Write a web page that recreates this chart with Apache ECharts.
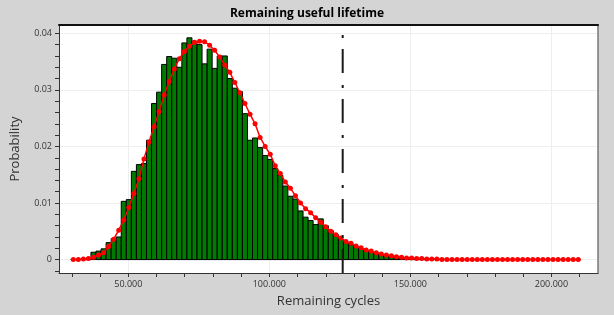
<!DOCTYPE html>
<html><head><meta charset="utf-8">
<script src="https://cdn.jsdelivr.net/npm/echarts@6/dist/echarts.min.js"></script>
<style>html,body{margin:0;padding:0;background:#d4d4d4}#c{width:614px;height:315px}</style>
</head><body><div id="c"></div>
<script>
// ---- data ----
const chartTitle = 'Remaining useful lifetime';
const xAxisTitle = 'Remaining cycles';
const yAxisTitle = 'Probability';
const binFirstCenter = 30500;   // centre of first histogram bin (cycles)
const binWidth = 1790;          // width of one bin (cycles)
const histHeights = [
  0, 0, 0, 0, 0.0013, 0.0015, 0.0019, 0.0030, 0.0037, 0.0040,
  0.0103, 0.0106, 0.0156, 0.0168, 0.0170, 0.0211, 0.0276, 0.0296, 0.0345, 0.0359,
  0.0356, 0.0340, 0.0383, 0.0392, 0.0386, 0.0380, 0.0346, 0.0372, 0.0338, 0.0360,
  0.0360, 0.0320, 0.0303, 0.0297, 0.0258, 0.0211, 0.0215, 0.0198, 0.0184, 0.0177,
  0.0161, 0.0149, 0.0130, 0.0112, 0.0107, 0.0086, 0.0075, 0.0069, 0.0062, 0.0072,
  0.0060, 0.0051, 0.0044, 0.0036, 0.0030, 0.0026, 0.0022, 0.0019, 0.0016, 0.0013,
  0.0010, 0.0009, 0.0007, 0.0006, 0.0005, 0.0004, 0.0003, 0.0003, 0.0002, 0.0002,
  0.0001, 0.0001, 0.0001, 0, 0, 0, 0, 0, 0, 0,
  0, 0, 0, 0, 0, 0, 0, 0, 0, 0,
  0, 0, 0, 0, 0, 0, 0, 0, 0, 0,
  0
];
const fitValues = [
  0.0000, 0.0000, 0.0001, 0.0002, 0.0004, 0.0008, 0.0012, 0.0023, 0.0036, 0.0052,
  0.0070, 0.0092, 0.0117, 0.0143, 0.0178, 0.0208, 0.0235, 0.0262, 0.0291, 0.0315,
  0.0337, 0.0355, 0.0368, 0.0377, 0.0384, 0.0386, 0.0385, 0.0379, 0.0370, 0.0358,
  0.0344, 0.0331, 0.0313, 0.0295, 0.0276, 0.0257, 0.0240, 0.0216, 0.0200, 0.0186,
  0.0166, 0.0152, 0.0137, 0.0126, 0.0113, 0.0100, 0.0090, 0.0083, 0.0074, 0.0066,
  0.0058, 0.0050, 0.0044, 0.0038, 0.0032, 0.0029, 0.0024, 0.0021, 0.0017, 0.0015,
  0.0012, 0.0010, 0.0008, 0.0007, 0.0005, 0.0004, 0.0003, 0.0003, 0.0002, 0.0002,
  0.0001, 0.0001, 0.0001, 0, 0, 0, 0, 0, 0, 0,
  0, 0, 0, 0, 0, 0, 0, 0, 0, 0,
  0, 0, 0, 0, 0, 0, 0, 0, 0, 0,
  0
];
const thresholdCycles = 126000;
const xMajorTicks = [50000, 100000, 150000, 200000];
const xMinorTicks = [30000, 40000, 50000, 60000, 70000, 80000, 90000, 100000, 110000, 120000,
  130000, 140000, 150000, 160000, 170000, 180000, 190000, 200000, 210000];
const yMajorTicks = [0, 0.01, 0.02, 0.03, 0.04];
const yMinorTicks = [-0.002, 0, 0.002, 0.004, 0.006, 0.008, 0.01, 0.012, 0.014, 0.016, 0.018,
  0.02, 0.022, 0.024, 0.026, 0.028, 0.03, 0.032, 0.034, 0.036, 0.038, 0.04];
const xMin = 25440, xMax = 216500;
const yMin = -0.00237, yMax = 0.04147;

// ---- build ----
const histData = histHeights.map((h, i) => {
  const c = binFirstCenter + i * binWidth;
  return [c - binWidth / 2, c + binWidth / 2, h];
});
const fitData = fitValues.map((v, i) => [binFirstCenter + i * binWidth, v]);

function thousands(v) {
  return String(Math.round(v)).replace(/\B(?=(\d{3})+(?!\d))/g, '.');
}
const FONT = 'Open Sans';
const chart = echarts.init(document.getElementById('c'), null, {renderer: 'canvas'});
chart.setOption({
  animation: false,
  backgroundColor: '#d4d4d4',
  title: {
    text: chartTitle, left: 'center', top: 3,
    textStyle: {fontFamily: FONT, fontSize: 12, fontWeight: 'bold', color: '#000'}
  },
  grid: {left: 59, right: 16, top: 25, bottom: 42, show: true, backgroundColor: '#fff', borderWidth: 0},
  xAxis: [{
    type: 'value', min: xMin, max: xMax, position: 'bottom',
    axisLine: {show: true, onZero: false, lineStyle: {color: '#333', width: 1}},
    axisTick: {show: true, customValues: xMinorTicks, length: 4, lineStyle: {color: '#333'}},
    axisLabel: {customValues: xMajorTicks, formatter: thousands, fontFamily: FONT, fontSize: 9, color: '#333', margin: 7},
    splitLine: {show: false},
    name: xAxisTitle, nameLocation: 'middle', nameGap: 22,
    nameTextStyle: {fontFamily: FONT, fontSize: 13, color: '#333'}
  }, {
    type: 'value', min: xMin, max: xMax, position: 'top',
    axisLine: {show: true, onZero: false, lineStyle: {color: '#111', width: 2}},
    axisTick: {show: false, customValues: xMajorTicks},
    axisLabel: {show: false, customValues: xMajorTicks},
    splitLine: {show: true, lineStyle: {color: '#eeeeee', width: 1}}
  }],
  yAxis: [{
    type: 'value', min: yMin, max: yMax, position: 'left',
    axisLine: {show: true, onZero: false, lineStyle: {color: '#333', width: 1}},
    axisTick: {show: true, customValues: yMinorTicks, length: 4, lineStyle: {color: '#333'}},
    axisLabel: {customValues: yMajorTicks, formatter: v => (Math.abs(v) < 1e-9 ? '0' : v.toFixed(2)),
      fontFamily: FONT, fontSize: 9, color: '#333', margin: 7},
    splitLine: {show: false},
    name: yAxisTitle, nameLocation: 'middle', nameGap: 37, nameRotate: 90,
    nameTextStyle: {fontFamily: FONT, fontSize: 13, color: '#333'}
  }, {
    type: 'value', min: yMin, max: yMax, position: 'right',
    axisLine: {show: true, onZero: false, lineStyle: {color: '#777', width: 1.5}},
    axisTick: {show: false, customValues: yMajorTicks},
    axisLabel: {show: false, customValues: yMajorTicks},
    splitLine: {show: true, lineStyle: {color: '#eeeeee', width: 1}}
  }],
  series: [{
    type: 'custom', xAxisIndex: 0, yAxisIndex: 0, z: 2,
    data: histData,
    encode: {x: [0, 1], y: 2},
    renderItem: function (params, api) {
      const p0 = api.coord([api.value(0), api.value(2)]);
      const p1 = api.coord([api.value(1), 0]);
      return {
        type: 'rect',
        shape: {x: p0[0], y: p0[1], width: p1[0] - p0[0], height: p1[1] - p0[1]},
        style: {fill: '#007a00', stroke: '#000', lineWidth: 1}
      };
    }
  }, {
    type: 'line', xAxisIndex: 0, yAxisIndex: 0, z: 4,
    data: fitData, symbol: 'circle', symbolSize: 5, showSymbol: true,
    itemStyle: {color: '#ff0000'},
    lineStyle: {color: '#ff0000', width: 1.5}
  }, {
    type: 'line', xAxisIndex: 0, yAxisIndex: 0, z: 5,
    data: [[thresholdCycles, yMin], [thresholdCycles, yMax]],
    symbol: 'none',
    lineStyle: {color: '#1a1a1a', width: 2, type: [24, 11, 3, 12]}
  }]
});
</script></body></html>
